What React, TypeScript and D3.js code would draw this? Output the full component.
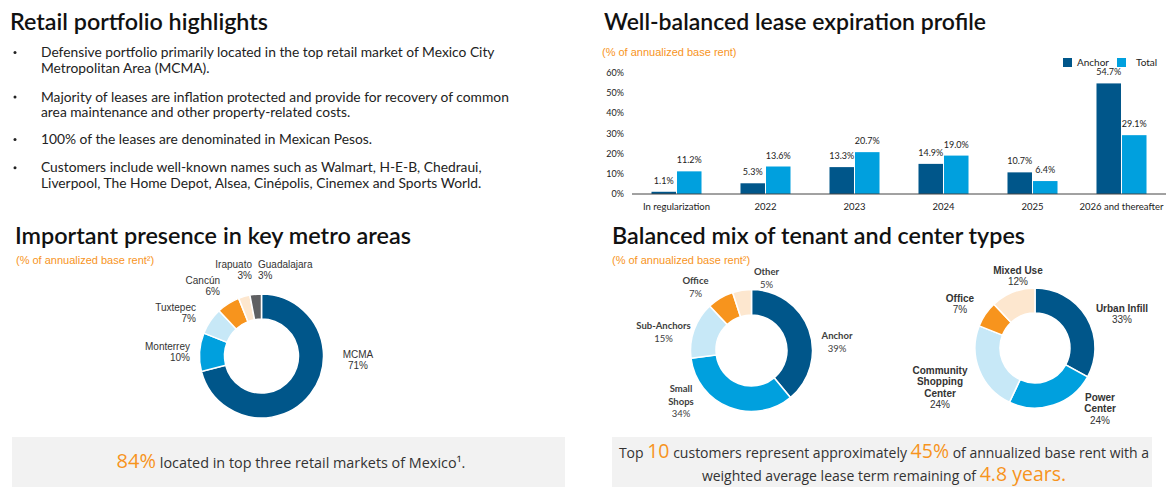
import React from 'react';
import * as d3 from 'd3';

// ---------- DATA ----------
const expiryCategories = ['In regularization', '2022', '2023', '2024', '2025', '2026 and thereafter'];
const expirySeries = ['Anchor', 'Total'];
const anchorValues = [1.1, 5.3, 13.3, 14.9, 10.7, 54.7];
const totalValues = [11.2, 13.6, 20.7, 19.0, 6.4, 29.1];
const yTicks = [0, 10, 20, 30, 40, 50, 60];

const metroLabels = ['MCMA', 'Monterrey', 'Tuxtepec', 'Cancún', 'Irapuato', 'Guadalajara'];
const metroValues = [71, 10, 7, 6, 3, 3];

const tenantLabels = ['Anchor', 'Small Shops', 'Sub-Anchors', 'Office', 'Other'];
const tenantValues = [39, 34, 15, 7, 5];

const centerLabels = ['Urban Infill', 'Power Center', 'Community Shopping Center', 'Office', 'Mixed Use'];
const centerValues = [33, 24, 24, 7, 12];

const bulletLines = [
  ['Defensive portfolio primarily located in the top retail market of Mexico City', 'Metropolitan Area (MCMA).'],
  ['Majority of leases are inflation protected and provide for recovery of common', 'area maintenance and other property-related costs.'],
  ['100% of the leases are denominated in Mexican Pesos.'],
  ['Customers include well-known names such as Walmart, H-E-B, Chedraui,', 'Liverpool, The Home Depot, Alsea, Cinépolis, Cinemex and Sports World.'],
];

// ---------- STYLE / LAYOUT ----------
const DARK = '#00568A';
const MID = '#00A0DE';
const LIGHT = '#C7E8F7';
const ORANGE = '#F7941D';
const PEACH = '#FDE7CF';
const GRAY = '#5F6062';
const SUB = '#F7941D';

const TITLE_FONT = 'Lato, "Open Sans", sans-serif';
const BODY_FONT = 'Lato, "Open Sans", sans-serif';
const ARIAL = '"Liberation Sans", Arial, sans-serif';

type LabelPos = { dx: number; dy: number; anchor: 'start' | 'middle' | 'end'; wrap?: boolean };

const metroLayout: LabelPos[] = [
  { dx: 96.5, dy: -2, anchor: 'middle' },
  { dx: -71.5, dy: -10, anchor: 'end' },
  { dx: -65.5, dy: -49, anchor: 'end' },
  { dx: -41.5, dy: -76, anchor: 'end' },
  { dx: -9.5, dy: -92, anchor: 'end' },
  { dx: -3.5, dy: -92, anchor: 'start' },
];
const tenantLayout: LabelPos[] = [
  { dx: 85.5, dy: -14.5, anchor: 'middle' },
  { dx: -70.5, dy: 38.5, anchor: 'middle', wrap: true },
  { dx: -88, dy: -24.5, anchor: 'middle' },
  { dx: -56, dy: -69.5, anchor: 'middle' },
  { dx: 15, dy: -78.5, anchor: 'middle' },
];
const centerLayout: LabelPos[] = [
  { dx: 87, dy: -40, anchor: 'middle' },
  { dx: 65, dy: 49, anchor: 'middle', wrap: true },
  { dx: -95, dy: 22, anchor: 'middle', wrap: true },
  { dx: -75, dy: -50, anchor: 'middle' },
  { dx: -17, dy: -78, anchor: 'middle' },
];

type DonutProps = {
  cx: number; cy: number; rOuter: number; rInner: number;
  values: number[]; labels: string[]; colors: string[]; layout: LabelPos[];
  nameFont: string; nameWeight: number; valueWeight: number; fontSize: number; lineH: number; textColor: string;
};

function Donut(p: DonutProps) {
  const pie = d3.pie<number>().sort(null).value((d) => d)(p.values);
  const arc = d3.arc<d3.PieArcDatum<number>>().innerRadius(p.rInner).outerRadius(p.rOuter);
  return (
    <g>
      <g transform={`translate(${p.cx},${p.cy})`}>
        {pie.map((d, i) => (
          <path key={i} d={arc(d) || ''} fill={p.colors[i]} stroke="#fff" strokeWidth={1.5} />
        ))}
      </g>
      {p.labels.map((lab, i) => {
        const L = p.layout[i];
        const lines = L.wrap ? lab.split(' ') : [lab];
        const x = p.cx + L.dx;
        const y0 = p.cy + L.dy + p.fontSize * 0.35;
        return (
          <text key={i} x={x} y={y0} textAnchor={L.anchor} fontFamily={p.nameFont} fontSize={p.fontSize} fill={p.textColor}>
            {lines.map((ln, j) => (
              <tspan key={j} x={x} y={y0 + j * p.lineH} fontWeight={p.nameWeight}>{ln}</tspan>
            ))}
            <tspan x={x} y={y0 + lines.length * p.lineH} fontWeight={p.valueWeight}>{p.values[i]}%</tspan>
          </text>
        );
      })}
    </g>
  );
}

export default function App() {
  const x0 = d3.scaleBand<string>().domain(expiryCategories).range([632, 1166]).paddingInner(0.438).paddingOuter(0.219);
  const x1 = d3.scaleBand<string>().domain(expirySeries).range([0, x0.bandwidth()]).paddingInner(0.04);
  const y = d3.scaleLinear().domain([0, 60]).range([194, 72.7]);
  const seriesValues = [anchorValues, totalValues];
  const seriesColors = [DARK, MID];

  const bulletStarts = [57, 101.5, 144, 172.2];
  const lineH = 15.7;

  return (
    <svg width={1175} height={496} style={{ position: 'absolute', left: 0, top: 0, background: '#fff' }}>
      <rect width={1175} height={496} fill="#fff" />
      {/* ---------- Titles ---------- */}
      <g fontFamily={TITLE_FONT} fontSize={23.3} fill="#111" fontWeight={600}>
        <text x={10} y={29.5} textLength={258} lengthAdjust="spacingAndGlyphs">Retail portfolio highlights</text>
        <text x={604} y={29.5} textLength={382} lengthAdjust="spacingAndGlyphs">Well-balanced lease expiration profile</text>
        <text x={15} y={244} textLength={396} lengthAdjust="spacingAndGlyphs">Important presence in key metro areas</text>
        <text x={612} y={243.5} textLength={413} lengthAdjust="spacingAndGlyphs">Balanced mix of tenant and center types</text>
      </g>
      {/* subtitles */}
      <g fontFamily={ARIAL} fontSize={11} fill={SUB}>
        <text x={602} y={55.5}>(% of annualized base rent)</text>
        <text x={16} y={264}>(% of annualized base rent²)</text>
        <text x={612} y={264}>(% of annualized base rent²)</text>
      </g>

      {/* ---------- Bullets ---------- */}
      <g fontFamily={BODY_FONT} fontSize={13.8} fill="#222">
        {bulletLines.map((lines, i) => (
          <g key={i}>
            <circle cx={15} cy={bulletStarts[i] - 4.4} r={1.5} fill="#222" />
            {lines.map((ln, j) => (
              <text key={j} x={41} y={bulletStarts[i] + j * lineH}>{ln}</text>
            ))}
          </g>
        ))}
      </g>

      {/* ---------- Bar chart ---------- */}
      <g fontFamily={BODY_FONT} fill="#222">
        {yTicks.map((t) => (
          <text key={t} x={624} y={y(t) + 3.2} textAnchor="end" fontSize={9}>{t}%</text>
        ))}
        {expiryCategories.map((c, i) => (
          <g key={c}>
            {expirySeries.map((s, k) => {
              const v = seriesValues[k][i];
              const bx = (x0(c) || 0) + (x1(s) || 0);
              return (
                <g key={s}>
                  <rect x={bx} y={y(v)} width={x1.bandwidth()} height={y(0) - y(v)} fill={seriesColors[k]} />
                  <text x={bx + x1.bandwidth() / 2} y={y(v) - 8} textAnchor="middle" fontSize={9}>{v.toFixed(1)}%</text>
                </g>
              );
            })}
            <text x={(x0(c) || 0) + x0.bandwidth() / 2} y={210} textAnchor="middle" fontSize={9.5}>{c}</text>
          </g>
        ))}
        <line x1={632} x2={1166} y1={y(0)} y2={y(0)} stroke="#444" strokeWidth={1} />
        {/* legend */}
        {expirySeries.map((s, k) => (
          <g key={s} transform={`translate(${k === 0 ? 1063 : 1117},58)`}>
            <rect width={9} height={9} fill={seriesColors[k]} />
            <text x={k === 0 ? 14 : 19} y={8} fontSize={10}>{s}</text>
          </g>
        ))}
      </g>

      {/* ---------- Donuts ---------- */}
      <Donut cx={261.5} cy={356} rOuter={62} rInner={37} values={metroValues} labels={metroLabels}
        colors={[DARK, MID, LIGHT, ORANGE, PEACH, GRAY]} layout={metroLayout}
        nameFont={ARIAL} nameWeight={400} valueWeight={400} fontSize={10} lineH={11.8} textColor="#333" />
      <Donut cx={751.5} cy={350.5} rOuter={61} rInner={35.5} values={tenantValues} labels={tenantLabels}
        colors={[DARK, MID, LIGHT, ORANGE, PEACH]} layout={tenantLayout}
        nameFont={BODY_FONT} nameWeight={700} valueWeight={400} fontSize={9.5} lineH={12.5} textColor="#404040" />
      <Donut cx={1035} cy={348} rOuter={60} rInner={35} values={centerValues} labels={centerLabels}
        colors={[DARK, MID, LIGHT, ORANGE, PEACH]} layout={centerLayout}
        nameFont={ARIAL} nameWeight={700} valueWeight={400} fontSize={10} lineH={11.5} textColor="#333" />

      {/* ---------- Bottom boxes ---------- */}
      <rect x={12} y={437} width={553} height={50} fill="#F2F2F2" />
      <rect x={612} y={437} width={540} height={50} fill="#F2F2F2" />
      <g fontFamily='"Open Sans", sans-serif' fill="#333">
        <text x={291} y={468} textAnchor="middle" fontSize={14.4}>
          <tspan fill={ORANGE} fontSize={20}>84%</tspan> located in top three retail markets of Mexico¹.
        </text>
        <text x={884} y={458} textAnchor="middle" fontSize={14}>
          Top <tspan fill={ORANGE} fontSize={19.5}>10</tspan> customers represent approximately <tspan fill={ORANGE} fontSize={19.5}>45%</tspan> of annualized base rent with a
        </text>
        <text x={884} y={480.5} textAnchor="middle" fontSize={14}>
          weighted average lease term remaining of <tspan fill={ORANGE} fontSize={19.5}>4.8 years.</tspan>
        </text>
      </g>
    </svg>
  );
}
